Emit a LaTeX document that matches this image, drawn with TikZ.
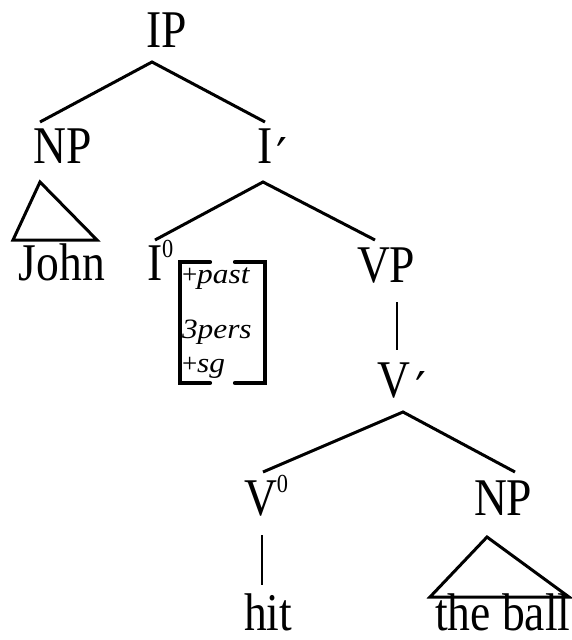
\documentclass[tikz,border=0pt]{standalone}
\usepackage{fontspec}
\setmainfont{Liberation Serif}[FakeStretch=0.86]
\newfontfamily\featfont{Liberation Serif}[FakeStretch=1.12]
\newfontfamily\featup{Liberation Serif}
\newfontfamily\primefont{DejaVu Serif}
\newcommand\zsup{\raisebox{23pt}{\fontsize{26}{26}\selectfont 0}}
\newcommand\prm{\raisebox{-9pt}{\primefont\fontsize{48}{48}\selectfont ′}}
\newcommand\fplus{{\featup\upshape\fontsize{27}{27}\selectfont +}}
\tikzset{
  lab/.style={anchor=base west, inner sep=0pt, outer sep=0pt, font=\fontsize{53}{60}\selectfont},
  feat/.style={anchor=base west, inner sep=0pt, outer sep=0pt, font=\featfont\itshape\fontsize{28}{30}\selectfont},
  branch/.style={line width=3pt},
  unary/.style={line width=1.2pt},
  tri/.style={line width=3pt, line join=miter},
  brk/.style={line width=4.2pt, line cap=round, line join=miter}
}
\begin{document}
\begin{tikzpicture}[x=1pt, y=-1pt]
\useasboundingbox (0,0) rectangle (571,640);
% labels
\node[lab] (IP) at (146,47) {IP};
\node[lab] (NPa) at (34,163) {NP};
\node[lab] (Ibar) at (257,163) {I\kern4pt\prm};
\node[lab] (John) at (19,280) {John};
\node[lab] (Izero) at (147,280) {I\zsup};
\node[lab] (VP) at (357,282) {VP};
\node[lab] (Vbar) at (377,397) {V\kern6pt\prm};
\node[lab] (Vzero) at (244,515) {V\zsup};
\node[lab] (NPb) at (474,515) {NP};
\node[lab] (hit) at (244,630) {hit};
\node[lab] (ball) at (435,630) {the ball};
% features
\node[feat] (f1) at (182,283) {\fplus past};
\node[feat] (f2) at (182,338) {3pers};
\node[feat] (f3) at (182,372) {\fplus sg};
% connector coordinates
\coordinate (IP-b) at (152,62);
\coordinate (NPa-t) at (40,122);
\coordinate (Ibar-t) at (265,122);
\coordinate (Ibar-b) at (263,182);
\coordinate (Izero-t) at (155,240);
\coordinate (VP-t) at (375,240);
\coordinate (VP-b) at (397,302);
\coordinate (Vbar-t) at (397,350);
\coordinate (Vbar-b) at (403,412);
\coordinate (Vzero-t) at (263,472);
\coordinate (NPb-t) at (515,472);
\coordinate (Vzero-b) at (262,535);
\coordinate (hit-t) at (262,585);
% branches
\draw[branch] (NPa-t) -- (IP-b) -- (Ibar-t);
\draw[branch] (Izero-t) -- (Ibar-b) -- (VP-t);
\draw[unary] (VP-b) -- (Vbar-t);
\draw[branch] (Vzero-t) -- (Vbar-b) -- (NPb-t);
\draw[unary] (Vzero-b) -- (hit-t);
% triangles
\draw[tri] (40,182) -- (13,240) -- (97,240) -- cycle;
\draw[tri] (487,537) -- (430,597) -- (569,597) -- cycle;
% brackets
\draw[brk] (210,262) -- (180,262) -- (180,383) -- (210,383);
\draw[brk] (235,262) -- (265,262) -- (265,383) -- (235,383);
\end{tikzpicture}
\end{document}
